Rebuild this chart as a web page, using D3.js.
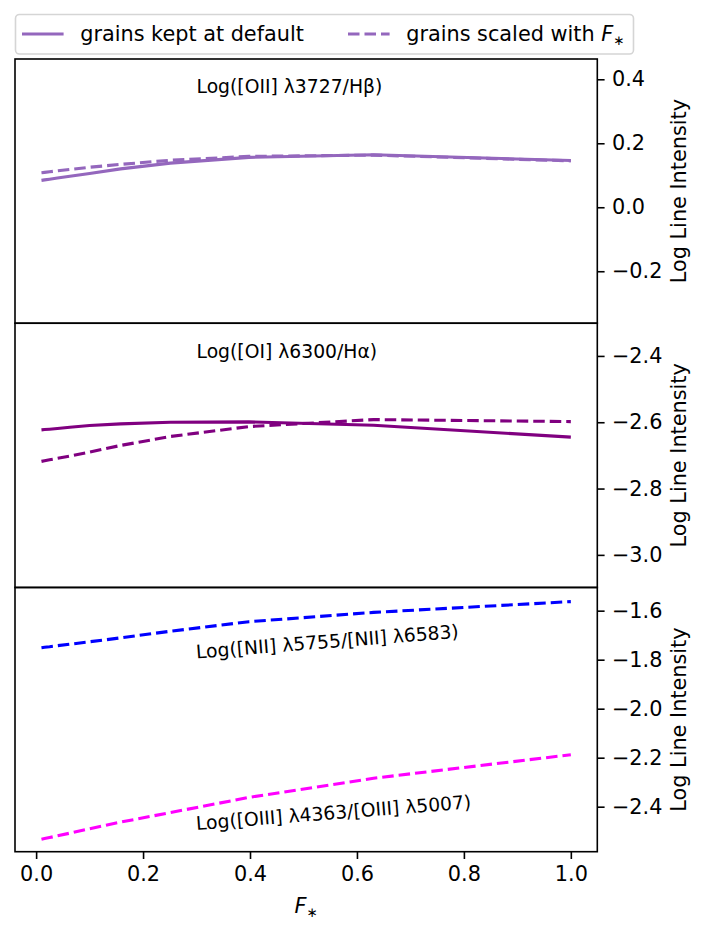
<!DOCTYPE html>
<html>
<head>
<meta charset="utf-8">
<script src="https://cdn.jsdelivr.net/npm/d3@7"></script>
<style>
  body { margin: 0; background: #fff; }
  svg { display: block; font-family: "DejaVu Sans", sans-serif; }
</style>
</head>
<body>
<div id="chart"></div>
<script>
// F* grid (x values shared by every curve)
const fStar = [0.01, 0.0158, 0.0251, 0.0398, 0.0631, 0.1, 0.158, 0.251, 0.398, 0.631, 1.0];

// Log([OII] 3727/Hb)
const oiiDefault = [0.084, 0.0855, 0.0877, 0.0912, 0.0967, 0.1055, 0.120, 0.138, 0.156, 0.164, 0.146];
const oiiScaled  = [0.108, 0.1091, 0.1109, 0.1137, 0.1181, 0.125, 0.134, 0.147, 0.159, 0.163, 0.145];

// Log([OI] 6300/Ha)
const oiDefault = [-2.623, -2.622, -2.621, -2.619, -2.615, -2.610, -2.605, -2.600, -2.599, -2.609, -2.645];
const oiScaled  = [-2.718, -2.716, -2.713, -2.709, -2.702, -2.690, -2.670, -2.643, -2.613, -2.592, -2.598];

// temperature-sensitive ratios (grains scaled)
const niiRatio  = [-1.751, -1.749, -1.747, -1.743, -1.737, -1.727, -1.711, -1.684, -1.645, -1.607, -1.563];
const oiiiRatio = [-2.533, -2.530, -2.526, -2.519, -2.508, -2.490, -2.463, -2.424, -2.362, -2.284, -2.188];

// tick values
const xTicks = [0.0, 0.2, 0.4, 0.6, 0.8, 1.0];
const yTicks1 = [-0.2, 0.0, 0.2, 0.4];
const yTicks2 = [-3.0, -2.8, -2.6, -2.4];
const yTicks3 = [-2.4, -2.2, -2.0, -1.8, -1.6];

const legendLabels = ["grains kept at default", "grains scaled with "];

const width = 705, height = 930;
const frame = { left: 15, right: 597.3, top: 59, bottom: 851.7 };
const panelH = (frame.bottom - frame.top) / 3;
const tickLen = 7.3, tickPad = 7.3;
const lw = 3.1, dash = "11.5,5";

const panels = [
  {
    domain: [-0.3625, 0.4634], ticks: yTicks1,
    series: [
      { values: oiiDefault, color: "#9467bd", dash: null },
      { values: oiiScaled, color: "#9467bd", dash: dash }
    ],
    notes: [{ text: "Log([OII] λ3727/Hβ)", frac: 0.87, rot: 0 }]
  },
  {
    domain: [-3.0983, -2.3014], ticks: yTicks2,
    series: [
      { values: oiDefault, color: "#800080", dash: null },
      { values: oiScaled, color: "#800080", dash: dash }
    ],
    notes: [{ text: "Log([OI] λ6300/Hα)", frac: 0.867, rot: 0 }]
  },
  {
    domain: [-2.5837, -1.5053], ticks: yTicks3,
    series: [
      { values: niiRatio, color: "#0000ff", dash: dash },
      { values: oiiiRatio, color: "#ff00ff", dash: dash }
    ],
    notes: [
      { text: "Log([NII] λ5755/[NII] λ6583)", y: -1.795, rot: -4.5 },
      { text: "Log([OIII] λ4363/[OIII] λ5007)", y: -2.495, rot: -4.5 }
    ]
  }
];

const svg = d3.select("#chart").append("svg")
  .attr("width", width)
  .attr("height", height);

const x = d3.scaleLinear()
  .domain([-0.0395, 1.0495])
  .range([frame.left, frame.right]);

const fmt = d3.format(".1f");

panels.forEach((p, i) => {
  const top = frame.top + i * panelH;
  const bottom = top + panelH;
  const y = d3.scaleLinear().domain(p.domain).range([bottom, top]);

  const g = svg.append("g");

  // curves
  const line = d3.line()
    .x((d, j) => x(fStar[j]))
    .y(d => y(d));

  p.series.forEach(s => {
    g.append("path")
      .datum(s.values)
      .attr("fill", "none")
      .attr("stroke", s.color)
      .attr("stroke-width", lw)
      .attr("stroke-dasharray", s.dash)
      .attr("d", line);
  });

  // annotations
  p.notes.forEach(n => {
    const ty = n.frac !== undefined ? bottom - n.frac * (bottom - top) : y(n.y);
    g.append("text")
      .attr("transform", `translate(${x(0.3)},${ty}) rotate(${n.rot})`)
      .attr("font-size", 18.75)
      .attr("fill", "#000")
      .text(n.text);
  });

  // right y axis
  const yAxis = d3.axisRight(y)
    .tickValues(p.ticks)
    .tickFormat(fmt)
    .tickSize(tickLen)
    .tickPadding(tickPad);

  const ay = svg.append("g")
    .attr("transform", `translate(${frame.right},0)`)
    .call(yAxis);
  ay.select(".domain").remove();
  ay.selectAll(".tick line").attr("stroke", "#000").attr("stroke-width", 1.6);
  ay.selectAll(".tick text")
    .attr("font-family", "DejaVu Sans")
    .attr("font-size", 20.8)
    .attr("fill", "#000");

  svg.append("text")
    .attr("transform", `translate(679,${(top + bottom) / 2}) rotate(-90)`)
    .attr("text-anchor", "middle")
    .attr("dominant-baseline", "central")
    .attr("font-size", 20.8)
    .text("Log Line Intensity");

  // frame
  svg.append("rect")
    .attr("x", frame.left)
    .attr("y", top)
    .attr("width", frame.right - frame.left)
    .attr("height", panelH)
    .attr("fill", "none")
    .attr("stroke", "#000")
    .attr("stroke-width", 1.6);
});

// bottom x axis
const xAxis = d3.axisBottom(x)
  .tickValues(xTicks)
  .tickFormat(fmt)
  .tickSize(tickLen)
  .tickPadding(tickPad);

const ax = svg.append("g")
  .attr("transform", `translate(0,${frame.bottom})`)
  .call(xAxis);
ax.select(".domain").remove();
ax.selectAll(".tick line").attr("stroke", "#000").attr("stroke-width", 1.6);
ax.selectAll(".tick text")
  .attr("font-family", "DejaVu Sans")
  .attr("font-size", 20.8)
  .attr("fill", "#000");

const xl = svg.append("text")
  .attr("x", (frame.left + frame.right) / 2)
  .attr("y", 913)
  .attr("text-anchor", "middle")
  .attr("font-size", 20.8);
xl.append("tspan").attr("font-style", "italic").text("F");
xl.append("tspan").attr("font-size", 13.5).attr("dy", 3.5).text("∗");

// legend
const leg = svg.append("g");
leg.append("rect")
  .attr("x", 15.5).attr("y", 14.5)
  .attr("width", 618).attr("height", 39.5)
  .attr("rx", 4)
  .attr("fill", "#fff")
  .attr("stroke", "#d5d5d5")
  .attr("stroke-width", 1.6);

const items = [
  { label: legendLabels[0], dash: null, x0: 22 },
  { label: legendLabels[1], dash: dash, x0: 348 }
];
items.forEach(it => {
  leg.append("line")
    .attr("x1", it.x0).attr("x2", it.x0 + 41.6)
    .attr("y1", 34).attr("y2", 34)
    .attr("stroke", "#9467bd")
    .attr("stroke-width", lw)
    .attr("stroke-dasharray", it.dash);
  const t = leg.append("text")
    .attr("x", it.x0 + 41.6 + 16.6)
    .attr("y", 41.3)
    .attr("font-size", 20.8)
    .text(it.label);
  if (it.dash) {
    t.append("tspan").attr("font-style", "italic").text("F");
    t.append("tspan").attr("font-size", 13.5).attr("dy", 3.5).text("∗");
  }
});
</script>
</body>
</html>
